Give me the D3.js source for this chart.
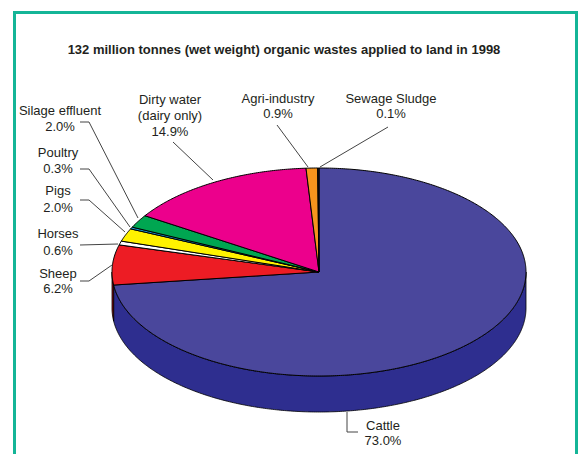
<!DOCTYPE html>
<html><head><meta charset="utf-8">
<script src="https://cdn.jsdelivr.net/npm/d3@7"></script>
<style>body{margin:0;background:#fff}svg{display:block}</style>
</head><body>
<svg id="c" width="583" height="454"></svg>
<script>
const title = "132 million tonnes (wet weight) organic wastes applied to land in 1998";
const categories = ["Cattle","Sheep","Horses","Pigs","Poultry","Silage effluent","Dirty water","Agri-industry","Sewage Sludge"];
const values = [73.0, 6.2, 0.6, 2.0, 0.3, 2.0, 14.9, 0.9, 0.1];
const labelLines = [["Cattle","73.0%"],["Sheep","6.2%"],["Horses","0.6%"],["Pigs","2.0%"],["Poultry","0.3%"],["Silage effluent","2.0%"],["Dirty water","(dairy only)","14.9%"],["Agri-industry","0.9%"],["Sewage Sludge","0.1%"]];
const topColors = ["#4A479C","#ED1C24","#FFFFFF","#FFF200","#1C9AD6","#00A651","#EC008C","#F7941D","#231F20"];
const sideColors = ["#2E2E8F","#8E1016","#BBBBBB","#B5AA00","#11628A","#006B34","#8E0055","#A65F0E","#111111"];

const svg = d3.select("#c");
const cx = 319, cy = 272, rx = 207, ry = 104, depth = 36;

svg.append("rect").attr("x",14.5).attr("y",12.5).attr("width",562).attr("height",500)
  .attr("fill","none").attr("stroke","#14B597").attr("stroke-width",3);

svg.append("text").attr("x",284).attr("y",54).attr("text-anchor","middle")
  .attr("font-family","Liberation Sans, Arial, sans-serif").attr("font-weight","bold")
  .attr("font-size",13).attr("fill","#231F20").text(title);

const pie = d3.pie().sort(null).startAngle(0).endAngle(2*Math.PI);
const arcs = pie(values);
const px = a => cx + rx*Math.sin(a);
const py = a => cy - ry*Math.cos(a);

function arcPts(a0,a1,dy){
  const n = Math.max(2, Math.ceil((a1-a0)/0.01));
  const pts=[];
  for(let i=0;i<=n;i++){const a=a0+(a1-a0)*i/n; pts.push([px(a),py(a)+dy]);}
  return pts;
}
const line = d3.line();

const g = svg.append("g");
arcs.forEach((d,i)=>{
  const a0 = Math.max(d.startAngle, Math.PI/2), a1 = Math.min(d.endAngle, 3*Math.PI/2);
  if (a1 <= a0) return;
  const top = arcPts(a0,a1,0), bot = arcPts(a0,a1,depth).reverse();
  g.append("path").attr("d", line(top.concat(bot))+"Z")
    .attr("fill", sideColors[i]).attr("stroke","#000").attr("stroke-width",0.8).attr("stroke-linejoin","round");
});
arcs.forEach((d,i)=>{
  const pts = [[cx,cy]].concat(arcPts(d.startAngle,d.endAngle,0));
  g.append("path").attr("d", line(pts)+"Z")
    .attr("fill", topColors[i]).attr("stroke","#000").attr("stroke-width",1).attr("stroke-linejoin","round");
});

const font = "Liberation Sans, Arial, sans-serif";
const labelPos = [
  {x:383,y:430,lh:15, leader:[[358,432],[347,432],[347,412]]},
  {x:58,y:278,lh:15, leader:[[80,281],[89,281],[112,265]]},
  {x:58,y:238,lh:17, leader:[[80,245],[118,244]]},
  {x:58,y:195,lh:17, leader:[[80,200],[89,200],[125,232]]},
  {x:58,y:157,lh:16, leader:[[80,169],[89,169],[130,227]]},
  {x:60,y:115,lh:16, leader:[[80,122],[89,122],[138,218]]},
  {x:170,y:104,lh:16, leader:[[173,142],[213,180]]},
  {x:278,y:103,lh:15, leader:[[277,125],[308,167]]},
  {x:391,y:103,lh:15, leader:[[388,127],[320,167]]}
];
labelPos.forEach((p,i)=>{
  svg.append("path").attr("d", line(p.leader)).attr("fill","none").attr("stroke","#444").attr("stroke-width",1);
  const t = svg.append("text").attr("text-anchor","middle").attr("font-family",font)
    .attr("font-size",13).attr("fill","#231F20");
  labelLines[i].forEach((s,k)=>{
    t.append("tspan").attr("x",p.x).attr("y",p.y+k*p.lh).text(s);
  });
});
</script>
</body></html>
